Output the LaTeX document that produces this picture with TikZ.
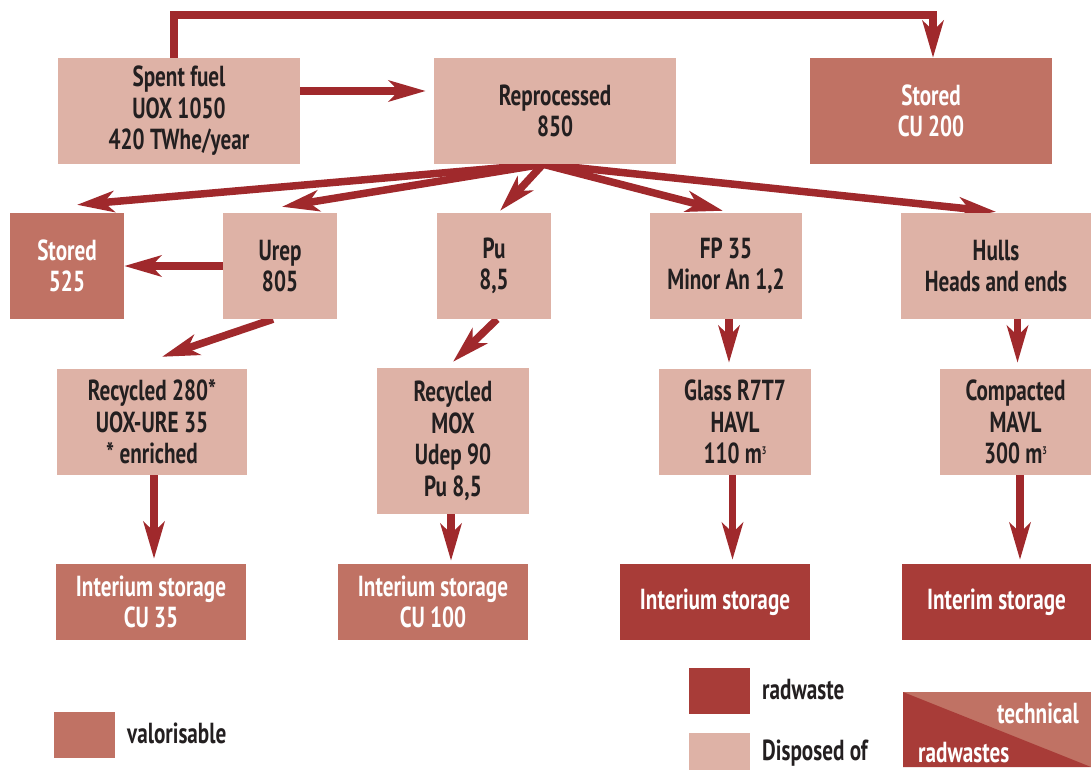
\documentclass[tikz,border=0pt]{standalone}
\usepackage{fontspec}
\setmainfont{PT Sans}[FakeStretch=0.73]
\usetikzlibrary{arrows.meta,backgrounds}
\definecolor{lightc}{HTML}{DEB2A6}
\definecolor{valc}{HTML}{C07264}
\definecolor{radc}{HTML}{A83C38}
\definecolor{arrc}{HTML}{A0292C}
\definecolor{txtc}{HTML}{231F20}
\newcommand{\cube}{\raisebox{9pt}{\fontsize{11}{11}\selectfont 3}}
\tikzset{
  box/.style={rectangle, inner sep=0pt, minimum height=106pt, align=center,
    font=\fontsize{29}{31.5}\selectfont\bfseries, text=txtc},
  lbox/.style={box, fill=lightc},
  vbox/.style={box, fill=valc, text=white},
  rbox/.style={box, fill=radc, text=white},
  arr/.style={draw=arrc, line width=7.5pt,
    -{Stealth[length=37pt, width=21pt, inset=10pt]}},
  legtext/.style={inner sep=0pt, font=\fontsize{29}{31.5}\selectfont\bfseries, text=txtc},
}
\begin{document}
\begin{tikzpicture}[x=1pt, y=-1pt]
\useasboundingbox (0,0) rectangle (1091,770);
% nodes
\node[lbox, minimum width=242pt] (sf) at (179,111) {Spent fuel\\UOX 1050\\420 TWhe/year};
\node[lbox, minimum width=242pt] (rep) at (555,111) {Reprocessed\\850};
\node[vbox, minimum width=242pt] (cu200) at (931,111) {Stored\\CU 200};
\node[vbox, minimum width=114pt] (st525) at (67,266) {Stored\\525};
\node[lbox, minimum width=114pt] (urep) at (280,266) {Urep\\805};
\node[lbox, minimum width=114pt] (pu) at (494,266) {Pu\\8,5};
\node[lbox, minimum width=152pt] (fp) at (726,266) {FP 35\\Minor An 1,2};
\node[lbox, minimum width=190pt] (hulls) at (996,266) {Hulls\\Heads and ends};
\node[lbox, minimum width=190pt] (rec) at (152,422) {Recycled 280*\\UOX-URE 35\\* enriched};
\node[lbox, minimum width=152pt, minimum height=146pt] (mox) at (453,441) {Recycled\\MOX\\Udep 90\\Pu 8,5};
\node[lbox, minimum width=152pt] (glass) at (735,422) {Glass R7T7\\HAVL\\110 m\cube};
\node[lbox, minimum width=152pt] (comp) at (1015.5,422) {Compacted\\MAVL\\300 m\cube};
\node[vbox, minimum width=190pt, minimum height=76pt] (cu35) at (151,602) {Interium storage\\CU 35};
\node[vbox, minimum width=190pt, minimum height=76pt] (cu100) at (433,602) {Interium storage\\CU 100};
\node[rbox, minimum width=190pt, minimum height=76pt] (int1) at (715,602) {Interium storage};
\node[rbox, minimum width=189pt, minimum height=76pt] (int2) at (996.5,602) {Interim storage};
% legend
\node[vbox, minimum width=61pt, minimum height=46pt] (lv) at (84.5,735) {};
\node[legtext, anchor=west] (lvt) at (127,733) {valorisable};
\node[rbox, minimum width=61pt, minimum height=46pt] (lr) at (719.5,691) {};
\node[legtext, anchor=west] (lrt) at (762,690) {radwaste};
\node[lbox, minimum width=61pt, minimum height=37pt] (ld) at (719.5,751.5) {};
\node[legtext, anchor=west] (ldt) at (762,753) {Disposed of};
\fill[valc] (903,692) rectangle (1091,767);
\fill[radc] (903,692) -- (1091,767) -- (903,767) -- cycle;
\node[legtext, text=white, anchor=east] (tt) at (1079,713) {technical};
\node[legtext, text=white, anchor=west] (tr) at (918,753) {radwastes};
% connectors
\begin{scope}[on background layer]
\coordinate (o) at ([xshift=-12pt]rep.south);
\draw[arr] ([xshift=-5pt]sf.north) -- ++(0,-43) -| ([xshift=2pt]cu200.north);
\draw[arr, shorten >=8pt] ([yshift=20pt]sf.east) -- ([yshift=20pt]rep.west);
\draw[arr] (o) -- ([xshift=10pt,yshift=8pt]st525.north);
\draw[arr] (o) -- ([xshift=2pt,yshift=6pt]urep.north);
\draw[arr] (o) -- ([xshift=6pt,yshift=2pt]pu.north);
\draw[arr] (o) -- ([xshift=-3pt,yshift=2pt]fp.north);
\draw[arr] (o) -- ([yshift=1pt]hulls.north);
\draw[arr] (urep.west) -- (st525.east);
\draw[arr] ([xshift=-7pt]urep.south) -- ([xshift=10pt,yshift=12pt]rec.north);
\draw[arr] ([xshift=3pt]pu.south) -- ([yshift=6pt]mox.north);
\draw[arr, shorten >=6pt] ([xshift=3pt]fp.south) -- ([xshift=3pt]fp.south |- glass.north);
\draw[arr, shorten >=6pt] ([xshift=2pt]comp.north |- hulls.south) -- ([xshift=2pt]comp.north);
\draw[arr, shorten >=5pt] ([xshift=2pt]rec.south) -- ([xshift=2pt]rec.south |- cu35.north);
\draw[arr, shorten >=3pt] ([xshift=-2pt]mox.south) -- ([xshift=-2pt]mox.south |- cu100.north);
\draw[arr, shorten >=4pt] ([xshift=-2.5pt]glass.south) -- ([xshift=-2.5pt]glass.south |- int1.north);
\draw[arr, shorten >=4pt] ([xshift=4.5pt]comp.south) -- ([xshift=4.5pt]comp.south |- int2.north);
\end{scope}
\end{tikzpicture}
\end{document}
